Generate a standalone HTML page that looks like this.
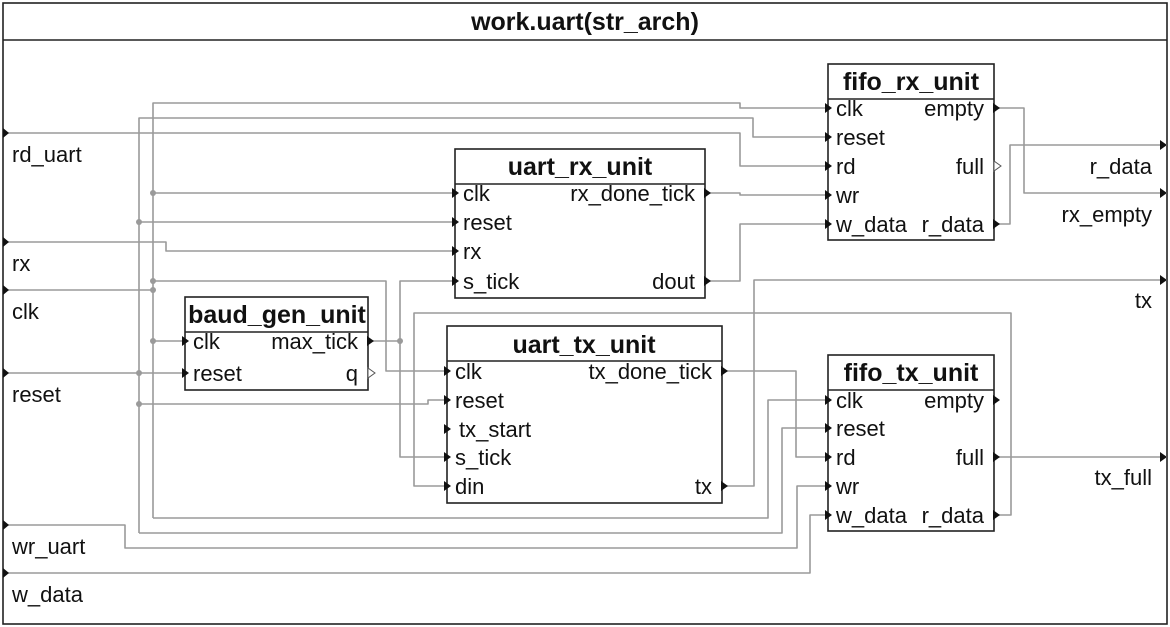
<!DOCTYPE html>
<html><head><meta charset="utf-8"><style>
html,body{margin:0;padding:0;background:#fff;}
svg{display:block;}
text{font-family:"Liberation Sans",sans-serif;fill:#111;}
.w{fill:none;stroke:#9a9a9a;stroke-width:1.6;stroke-linejoin:round;}
.b{fill:#fff;stroke:#222;stroke-width:1.6;}
.p{font-size:22px;}
.t{font-size:25px;font-weight:bold;}
.d{fill:#9a9a9a;}
</style></head><body>
<svg width="1170" height="627" viewBox="0 0 1170 627">
<rect x="3" y="3" width="1164" height="621" fill="#fff" stroke="#222" stroke-width="1.6"/>
<line x1="3" y1="40" x2="1167" y2="40" stroke="#222" stroke-width="1.6"/>
<text x="585" y="30" text-anchor="middle" class="t">work.uart(str_arch)</text>

<!-- wires -->
<polyline class="w" points="3,133 740,133 740,166 828,166"/>
<polyline class="w" points="153,518 153,103 740,103 740,108 828,108"/>
<polyline class="w" points="139,533 139,118 753,118 753,137 828,137"/>
<polyline class="w" points="3,290 153,290"/>
<polyline class="w" points="153,193 455,193"/>
<polyline class="w" points="139,222 455,222"/>
<polyline class="w" points="3,242 166,242 166,251 455,251"/>
<polyline class="w" points="153,341 185,341"/>
<polyline class="w" points="3,373 185,373"/>
<polyline class="w" points="153,281 386,281 386,371 447,371"/>
<polyline class="w" points="370,341 400,341"/>
<polyline class="w" points="455,281 400,281 400,457 447,457"/>
<polyline class="w" points="139,404 428,404 428,400 447,400"/>
<polyline class="w" points="447,486 414,486 414,313 1011,313 1011,515 994,515"/>
<polyline class="w" points="705,193 740,193 740,195 828,195"/>
<polyline class="w" points="705,281 740,281 740,224 828,224"/>
<polyline class="w" points="994,108 1024,108 1024,193 1167,193"/>
<polyline class="w" points="994,224 1010,224 1010,145 1167,145"/>
<polyline class="w" points="722,486 754,486 754,280 1167,280"/>
<polyline class="w" points="722,371 796,371 796,457 828,457"/>
<polyline class="w" points="153,518 768,518 768,400 828,400"/>
<polyline class="w" points="139,533 782,533 782,428 828,428"/>
<polyline class="w" points="3,525 125,525 125,548 797,548 797,486 828,486"/>
<polyline class="w" points="3,573 810,573 810,515 828,515"/>
<polyline class="w" points="994,457 1167,457"/>

<!-- dots -->
<circle class="d" cx="153" cy="193" r="3"/><circle class="d" cx="153" cy="281" r="3"/>
<circle class="d" cx="153" cy="290" r="3"/><circle class="d" cx="153" cy="341" r="3"/>
<circle class="d" cx="139" cy="222" r="3"/><circle class="d" cx="139" cy="373" r="3"/>
<circle class="d" cx="139" cy="404" r="3"/><circle class="d" cx="400" cy="341" r="3"/>

<!-- outer ports -->
<g fill="#111">
<polygon points="3,128 9,133 3,138"/><polygon points="3,237 9,242 3,247"/>
<polygon points="3,285 9,290 3,295"/><polygon points="3,368 9,373 3,378"/>
<polygon points="3,520 9,525 3,530"/><polygon points="3,568 9,573 3,578"/>
<polygon points="1160,140 1167,145 1160,150"/><polygon points="1160,188 1167,193 1160,198"/>
<polygon points="1160,275 1167,280 1160,285"/><polygon points="1160,452 1167,457 1160,462"/>
</g>
<g class="p">
<text x="12" y="162">rd_uart</text><text x="12" y="271">rx</text>
<text x="12" y="319">clk</text><text x="12" y="402">reset</text>
<text x="12" y="554">wr_uart</text><text x="12" y="602">w_data</text>
<text x="1152" y="174" text-anchor="end">r_data</text>
<text x="1152" y="222" text-anchor="end">rx_empty</text>
<text x="1152" y="308" text-anchor="end">tx</text>
<text x="1152" y="485" text-anchor="end">tx_full</text>
</g>

<!-- fifo_rx_unit -->
<rect class="b" x="828" y="64" width="166" height="176"/>
<line x1="828" y1="99" x2="994" y2="99" stroke="#222" stroke-width="1.6"/>
<text x="911" y="90" text-anchor="middle" class="t">fifo_rx_unit</text>
<g class="p">
<text x="836" y="116">clk</text><text x="836" y="145">reset</text><text x="836" y="174">rd</text>
<text x="836" y="203">wr</text><text x="836" y="232">w_data</text>
<text x="984" y="116" text-anchor="end">empty</text><text x="984" y="174" text-anchor="end">full</text>
<text x="984" y="232" text-anchor="end">r_data</text>
</g>

<!-- uart_rx_unit -->
<rect class="b" x="455" y="149" width="250" height="149"/>
<line x1="455" y1="184" x2="705" y2="184" stroke="#222" stroke-width="1.6"/>
<text x="580" y="175" text-anchor="middle" class="t">uart_rx_unit</text>
<g class="p">
<text x="463" y="201">clk</text><text x="463" y="230">reset</text><text x="463" y="259">rx</text>
<text x="463" y="289">s_tick</text>
<text x="695" y="201" text-anchor="end">rx_done_tick</text><text x="695" y="289" text-anchor="end">dout</text>
</g>

<!-- baud_gen_unit -->
<rect class="b" x="185" y="297" width="183" height="93"/>
<line x1="185" y1="332" x2="368" y2="332" stroke="#222" stroke-width="1.6"/>
<text x="277" y="323" text-anchor="middle" class="t">baud_gen_unit</text>
<g class="p">
<text x="193" y="349">clk</text><text x="193" y="381">reset</text>
<text x="358" y="349" text-anchor="end">max_tick</text><text x="358" y="381" text-anchor="end">q</text>
</g>

<!-- uart_tx_unit -->
<rect class="b" x="447" y="326" width="275" height="177"/>
<line x1="447" y1="361" x2="722" y2="361" stroke="#222" stroke-width="1.6"/>
<text x="584" y="353" text-anchor="middle" class="t">uart_tx_unit</text>
<g class="p">
<text x="455" y="379">clk</text><text x="455" y="408">reset</text><text x="459" y="437">tx_start</text>
<text x="455" y="465">s_tick</text><text x="455" y="494">din</text>
<text x="712" y="379" text-anchor="end">tx_done_tick</text><text x="712" y="494" text-anchor="end">tx</text>
</g>

<!-- fifo_tx_unit -->
<rect class="b" x="828" y="355" width="166" height="176"/>
<line x1="828" y1="390" x2="994" y2="390" stroke="#222" stroke-width="1.6"/>
<text x="911" y="381" text-anchor="middle" class="t">fifo_tx_unit</text>
<g class="p">
<text x="836" y="408">clk</text><text x="836" y="436">reset</text><text x="836" y="465">rd</text>
<text x="836" y="494">wr</text><text x="836" y="523">w_data</text>
<text x="984" y="408" text-anchor="end">empty</text><text x="984" y="465" text-anchor="end">full</text>
<text x="984" y="523" text-anchor="end">r_data</text>
</g>

<!-- port arrows -->
<g fill="#111">
<polygon points="825,103 832,108 825,113"/><polygon points="825,132 832,137 825,142"/>
<polygon points="825,161 832,166 825,171"/><polygon points="825,190 832,195 825,200"/>
<polygon points="825,219 832,224 825,229"/>
<polygon points="993,103 1000,108 993,113"/><polygon points="993,219 1000,224 993,229"/>
<polygon points="452,188 459,193 452,198"/><polygon points="452,217 459,222 452,227"/>
<polygon points="452,246 459,251 452,256"/><polygon points="452,276 459,281 452,286"/>
<polygon points="704,188 711,193 704,198"/><polygon points="704,276 711,281 704,286"/>
<polygon points="182,336 189,341 182,346"/><polygon points="182,368 189,373 182,378"/>
<polygon points="367,336 374,341 367,346"/>
<polygon points="444,366 451,371 444,376"/><polygon points="444,395 451,400 444,405"/>
<polygon points="444,424 451,429 444,434"/><polygon points="444,452 451,457 444,462"/>
<polygon points="444,481 451,486 444,491"/>
<polygon points="721,366 728,371 721,376"/><polygon points="721,481 728,486 721,491"/>
<polygon points="825,395 832,400 825,405"/><polygon points="825,423 832,428 825,433"/>
<polygon points="825,452 832,457 825,462"/><polygon points="825,481 832,486 825,491"/>
<polygon points="825,510 832,515 825,520"/>
<polygon points="993,395 1000,400 993,405"/><polygon points="993,452 1000,457 993,462"/>
<polygon points="993,510 1000,515 993,520"/>
</g>
<g fill="#fff" stroke="#555" stroke-width="1">
<polygon points="994,161 1001,166 994,171"/>
<polygon points="368,368 375,373 368,378"/>
</g>
</svg>
</body></html>
